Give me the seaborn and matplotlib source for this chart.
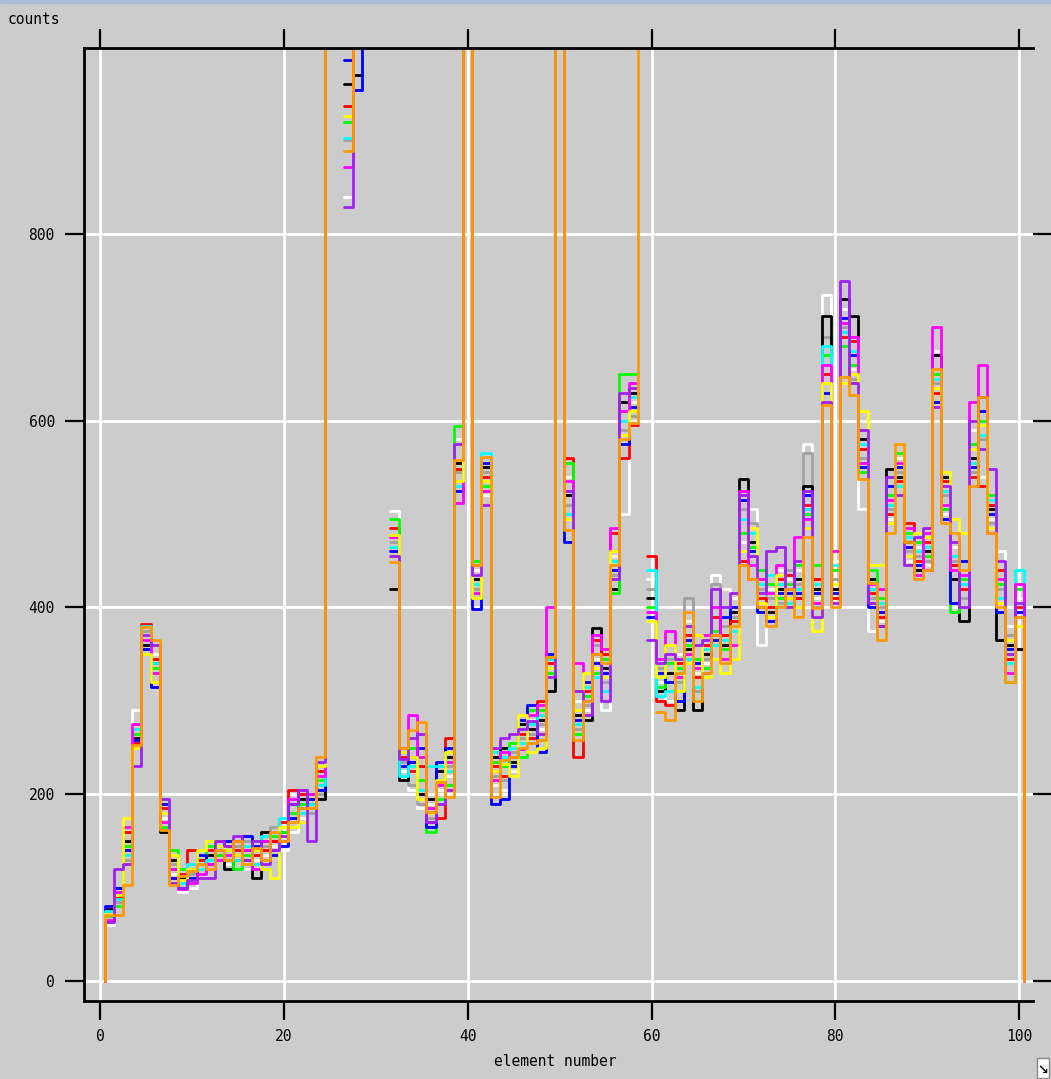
import numpy as np
import pandas as pd
import matplotlib
matplotlib.use("Agg")
import matplotlib.pyplot as plt
from matplotlib.patches import Rectangle
import seaborn as sns

N = np.nan
B = 1500.0  # off-scale (clipped at the top of the plot)

elements = list(range(1, 101))

orange = [71, 71, 103, 253, 379, 365, 162, 103, 112, 118, 125, 120, 140, 130, 150, 125, 142, 130, 160, 150,
          170, 185, 185, 240, B, N, 889, B, N, N, N, 449, 249, 269, 277, 181, 213, 197, 558, B,
          445, 561, 197, 237, 240, 250, 255, 258, 347, B, 483, 258, 300, 350, 340, 445, 580, 598, B, N,
          288, 279, 330, 395, 300, 330, 370, 340, 380, 445, 430, 400, 380, 400, 420, 390, 475, 399, 617, 400,
          647, 627, 538, 426, 365, 480, 575, 470, 430, 440, 655, 490, 480, 440, 530, 625, 480, 400, 320, 390]
black = [77, 100, 150, 260, 360, 340, 160, 130, 110, 120, 130, 135, 140, 120, 130, 140, 110, 160, 150, 160,
         190, 195, 190, 195, B, N, 960, 970, N, N, N, 420, 215, 240, 200, 195, 225, 240, 555, B,
         430, 550, 240, 250, 235, 275, 270, 280, 310, B, 520, 285, 280, 378, 335, 420, 620, 630, N, 410,
         310, 330, 290, 355, 290, 350, 370, 360, 395, 537, 470, 400, 395, 420, 410, 430, 530, 420, 712, 420,
         730, 712, 580, 430, 380, 548, 540, 470, 440, 460, 670, 540, 430, 385, 560, 625, 505, 365, 360, 355]
white = [60, 90, 175, 290, 370, 350, 175, 115, 95, 100, 120, 140, 150, 125, 135, 120, 130, 135, 145, 140,
         160, 175, 185, 215, B, N, 839, B, N, N, N, 503, 225, 205, 185, 190, 205, 220, 580, B,
         440, 520, 210, 205, 225, 250, 280, 270, 330, B, 540, 300, 290, 345, 290, 455, 500, 620, N, 430,
         320, 300, 350, 385, 330, 340, 435, 420, 410, 470, 505, 360, 420, 440, 430, 440, 575, 410, 735, 450,
         720, 655, 505, 375, 385, 495, 560, 450, 465, 445, 675, 500, 465, 440, 590, 540, 495, 460, 380, 410]
gray = [70, 85, 130, 265, 375, 330, 180, 125, 110, 115, 125, 130, 135, 130, 145, 150, 140, 145, 165, 150,
        170, 200, 180, 200, B, N, 900, B, N, N, N, 470, 235, 210, 190, 175, 215, 230, 545, B,
        420, 545, 220, 215, 245, 260, 265, 275, 340, B, 510, 270, 295, 360, 320, 435, 590, 605, N, 420,
        335, 345, 320, 410, 310, 345, 425, 380, 390, 505, 490, 420, 410, 405, 440, 425, 565, 400, 690, 430,
        700, 645, 560, 410, 400, 505, 545, 460, 455, 450, 640, 520, 450, 410, 545, 580, 490, 420, 370, 390]
red = [75, 90, 160, 255, 382, 345, 185, 120, 115, 140, 130, 140, 150, 145, 140, 130, 135, 140, 150, 170,
       205, 200, 195, 225, B, N, 937, B, N, N, N, 485, 240, 225, 230, 170, 175, 260, 548, B,
       445, 540, 230, 220, 240, 265, 260, 300, 340, B, 560, 240, 310, 365, 350, 480, 560, 595, N, 455,
       300, 295, 340, 370, 325, 360, 390, 370, 385, 450, 430, 410, 400, 430, 435, 410, 510, 430, 650, 410,
       690, 685, 570, 415, 390, 500, 535, 490, 450, 470, 630, 535, 445, 420, 540, 530, 510, 440, 345, 400]
green = [70, 80, 145, 265, 355, 335, 165, 140, 120, 110, 125, 145, 135, 140, 120, 135, 150, 130, 155, 160,
         180, 190, 200, 215, B, N, 920, B, N, N, N, 495, 245, 250, 215, 160, 195, 210, 594, B,
         450, 530, 235, 230, 255, 240, 290, 290, 330, B, 555, 265, 305, 330, 345, 415, 650, 650, N, 400,
         315, 340, 335, 360, 345, 335, 375, 355, 380, 480, 465, 440, 425, 410, 425, 445, 500, 445, 670, 440,
         680, 660, 545, 440, 410, 520, 565, 480, 470, 455, 650, 505, 395, 430, 575, 600, 520, 425, 320, 420]
blue = [80, 100, 140, 258, 355, 315, 190, 110, 100, 110, 135, 125, 140, 150, 135, 155, 145, 150, 135, 145,
        175, 185, 195, 205, B, N, 986, 954, B, N, N, 460, 230, 235, 250, 165, 235, 250, 525, B,
        398, 555, 190, 195, 230, 280, 295, 245, 350, B, 470, 280, 320, 340, 330, 440, 575, 615, N, 390,
        330, 320, 300, 365, 340, 330, 365, 390, 400, 515, 460, 395, 385, 415, 415, 415, 520, 415, 630, 415,
        710, 670, 550, 400, 395, 530, 550, 465, 445, 440, 620, 495, 405, 450, 550, 610, 500, 395, 355, 395]
cyan = [75, 88, 135, 270, 380, 340, 195, 120, 105, 125, 120, 130, 145, 135, 130, 145, 125, 155, 140, 175,
        170, 180, 190, 210, B, N, 903, B, N, N, N, 465, 220, 230, 205, 230, 230, 225, 530, B,
        425, 565, 245, 240, 250, 255, 275, 285, 345, B, 500, 275, 315, 325, 310, 450, 600, 625, N, 440,
        305, 310, 330, 345, 315, 355, 360, 365, 375, 495, 480, 425, 435, 425, 405, 420, 505, 425, 680, 445,
        695, 675, 575, 420, 405, 510, 530, 475, 460, 465, 645, 525, 455, 425, 555, 585, 515, 410, 340, 440]
magenta = [65, 95, 165, 275, 365, 330, 170, 120, 98, 105, 115, 125, 130, 135, 150, 140, 120, 150, 140, 150,
           195, 205, 200, 220, B, N, 872, B, N, N, N, 475, 250, 285, 240, 185, 210, 235, 512, B,
           415, 525, 215, 245, 240, 248, 285, 295, 400, B, 535, 340, 300, 370, 355, 485, 610, 640, N, 395,
           345, 375, 325, 350, 335, 370, 400, 345, 360, 525, 445, 430, 415, 445, 420, 475, 495, 405, 660, 460,
           705, 690, 555, 425, 420, 515, 555, 485, 435, 480, 700, 510, 440, 435, 620, 660, 480, 430, 330, 425]
yellow = [72, 92, 175, 250, 350, 320, 180, 135, 108, 120, 140, 150, 145, 140, 135, 125, 140, 120, 110, 165,
          165, 170, 185, 230, B, N, 926, B, N, N, N, 478, 245, 240, 195, 180, 215, 245, 535, B,
          410, 535, 225, 232, 220, 285, 245, 250, 335, B, 495, 290, 330, 335, 325, 460, 585, 610, N, 385,
          325, 360, 310, 340, 370, 325, 345, 330, 345, 460, 485, 405, 390, 435, 410, 400, 485, 375, 640, 425,
          640, 650, 610, 445, 445, 490, 575, 455, 480, 475, 635, 545, 495, 480, 570, 595, 485, 405, 365, 380]
purple = [63, 120, 125, 230, 370, 360, 195, 105, 100, 108, 110, 110, 150, 145, 155, 130, 150, 125, 140, 155,
          190, 205, 150, 235, B, N, 829, B, N, N, N, 455, 238, 260, 265, 170, 190, 205, 575, B,
          435, 510, 250, 260, 265, 270, 278, 265, 325, B, 525, 310, 285, 350, 300, 430, 630, 635, N, 365,
          340, 350, 345, 380, 360, 365, 420, 400, 415, 520, 455, 415, 460, 465, 400, 450, 525, 390, 620, 405,
          750, 640, 590, 405, 380, 540, 520, 445, 475, 485, 615, 530, 470, 400, 600, 570, 548, 450, 350, 405]

series = {
    "white": white, "gray": gray, "black": black, "red": red, "green": green,
    "blue": blue, "cyan": cyan, "magenta": magenta, "yellow": yellow,
    "purple": purple, "orange": orange,
}
palette = {
    "white": "#ffffff", "gray": "#a0a0a0", "black": "#000000", "red": "#ff0000",
    "green": "#00ff00", "blue": "#0000ff", "cyan": "#00ffff", "magenta": "#ff00ff",
    "yellow": "#ffff00", "purple": "#a020f0", "orange": "#ff9900",
}
order = list(series.keys())

# Build step outlines (split at missing bins) for seaborn
rows = []
for name, vals in series.items():
    v = np.asarray(vals, dtype=float)
    ok = ~np.isnan(v)
    seg = 0
    i = 0
    n = len(v)
    while i < n:
        if not ok[i]:
            i += 1
            continue
        j = i
        while j + 1 < n and ok[j + 1]:
            j += 1
        xs = [elements[k] - 0.5 for k in range(i, j + 1)] + [elements[j] + 0.5]
        ys = list(v[i:j + 1]) + [v[j]]
        if i == 0:
            xs = [xs[0]] + xs
            ys = [0.0] + ys
        if j == n - 1:
            xs = xs + [xs[-1]]
            ys = ys + [0.0]
        for xx, yy in zip(xs, ys):
            rows.append({"x": xx, "y": yy, "series": name, "seg": seg})
        seg += 1
        i = j + 1
df = pd.DataFrame(rows)

BG = "#cccccc"
sns.set_theme(style="darkgrid", rc={
    "axes.facecolor": BG, "figure.facecolor": BG, "grid.color": "white",
    "grid.linewidth": 2.0, "axes.edgecolor": "black", "axes.linewidth": 2.0,
})
plt.rcParams["font.family"] = ["DejaVu Sans Mono", "DejaVu Sans"]

fig = plt.figure(figsize=(10.51, 10.79), dpi=100)
ax = fig.add_axes([84 / 1051, 78 / 1079, 949 / 1051, 953 / 1079])

sns.lineplot(data=df, x="x", y="y", hue="series", units="seg", estimator=None,
             sort=False, hue_order=order, palette=palette, legend=False,
             drawstyle="steps-post", linewidth=2.0, ax=ax)

ax.set_xlim(-1.74, 101.5)
ax.set_ylim(-21.4, 999)
ax.set_xticks([0, 20, 40, 60, 80, 100])
ax.set_yticks([0, 200, 400, 600, 800])
ax.set_xlabel("")
ax.set_ylabel("")
ax.grid(True, color="white", linewidth=2.0)
ax.set_axisbelow(True)

for s in ["left", "top", "bottom"]:
    ax.spines[s].set_visible(True)
    ax.spines[s].set_color("black")
    ax.spines[s].set_linewidth(2.0)
ax.spines["right"].set_visible(False)

ax.tick_params(axis="both", which="major", direction="out", length=14, width=1.6,
               color="black", labelsize=10.5, labelcolor="black")
ax.tick_params(axis="x", top=True, bottom=True, labeltop=False, labelbottom=True, pad=6)
ax.tick_params(axis="y", left=True, right=True, labelleft=True, labelright=False, pad=7)

fig.text(8 / 1051, 1 - 20 / 1079, "counts", fontsize=10.5, ha="left", va="center", color="black")
fig.text(555 / 1051, 1 - 1062 / 1079, "element number", fontsize=10.5, ha="center", va="center",
         color="black")

# window chrome
fig.patches.append(Rectangle((0, 1 - 3 / 1079), 1, 3 / 1079, transform=fig.transFigure,
                             color="#aabdd3", zorder=0))
fig.text(1043 / 1051, 1 - 1068 / 1079, "\u2198", fontsize=13, ha="center", va="center",
         color="black", bbox=dict(facecolor="white", edgecolor="#888888", pad=0.5))

fig.savefig("out.png", dpi=100, facecolor=BG)
